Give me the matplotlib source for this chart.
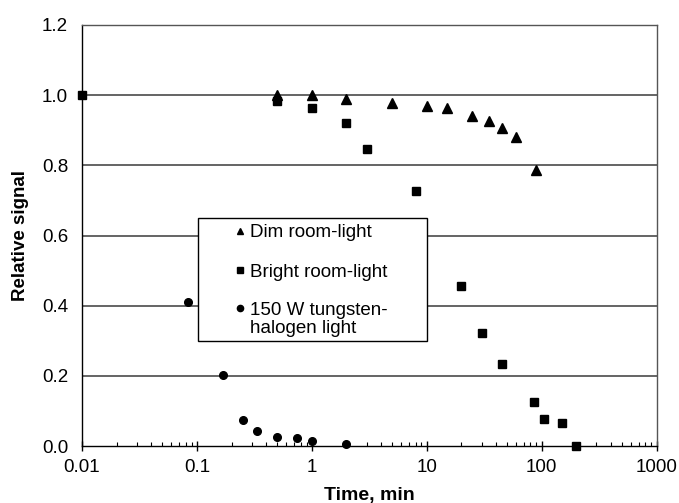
"""
Relative signal vs. exposure time for three light conditions
"""
import matplotlib
matplotlib.use('Agg')
import matplotlib.pyplot as plt
from matplotlib.patches import Rectangle
from matplotlib.ticker import FixedLocator, LogLocator, NullFormatter

plt.rcParams['font.family'] = ['Liberation Sans', 'DejaVu Sans']

# Dim room-light (triangles)
dim_t = [0.5, 1, 2, 5, 10, 15, 25, 35, 45, 60, 90]
dim_y = [1.0, 1.0, 0.989, 0.979, 0.970, 0.963, 0.940, 0.927, 0.906, 0.880, 0.787]

# Bright room-light (squares)
bright_t = [0.01, 0.5, 1, 2, 3, 8, 20, 30, 45, 85, 105, 150, 200]
bright_y = [1.0, 0.984, 0.963, 0.921, 0.847, 0.728, 0.457, 0.323, 0.234,
            0.126, 0.076, 0.067, 0.0]

# 150 W tungsten-halogen light (circles)
halogen_t = [0.083, 0.167, 0.25, 0.333, 0.5, 0.75, 1, 2]
halogen_y = [0.410, 0.202, 0.074, 0.043, 0.027, 0.024, 0.015, 0.005]

x_ticks = [0.01, 0.1, 1, 10, 100, 1000]
x_labels = ['0.01', '0.1', '1', '10', '100', '1000']
y_ticks = [0.0, 0.2, 0.4, 0.6, 0.8, 1.0, 1.2]

legend_labels = ['Dim room-light', 'Bright room-light', '150 W tungsten-',
                 'halogen light']

fig = plt.figure(figsize=(6.79, 5.03), dpi=100)
ax = fig.add_axes([0.1208, 0.1133, 0.8461, 0.837])

ax.set_xscale('log')
ax.set_xlim(0.01, 1000)
ax.set_ylim(0, 1.2)

# horizontal grid lines
for yv in y_ticks[1:-1]:
    ax.axhline(yv, color='#3a3a3a', lw=1.1, zorder=1)

ax.plot(dim_t, dim_y, ls='none', marker='^', ms=7, color='black',
        zorder=3, clip_on=False)
ax.plot(bright_t, bright_y, ls='none', marker='s', ms=5.5, color='black',
        zorder=3, clip_on=False)
ax.plot(halogen_t, halogen_y, ls='none', marker='o', ms=5.5, color='black',
        zorder=3, clip_on=False)

ax.xaxis.set_major_locator(FixedLocator(x_ticks))
ax.set_xticklabels(x_labels)
ax.xaxis.set_minor_locator(LogLocator(base=10, subs=range(2, 10)))
ax.xaxis.set_minor_formatter(NullFormatter())
ax.set_yticks(y_ticks)
ax.set_yticklabels([f'{v:.1f}' for v in y_ticks])

ax.tick_params(axis='x', which='major', direction='inout', length=7,
               width=1, labelsize=13.5, pad=6)
ax.tick_params(axis='x', which='minor', direction='in', length=3, width=0.8)
ax.tick_params(axis='y', which='major', length=0, labelsize=13.5, pad=10)

for side in ['top', 'right']:
    ax.spines[side].set_color('#555555')
    ax.spines[side].set_linewidth(1.0)
for side in ['left', 'bottom']:
    ax.spines[side].set_color('black')
    ax.spines[side].set_linewidth(1.0)

ax.set_xlabel('Time, min', fontsize=14, fontweight='bold', labelpad=8)
ax.set_ylabel('Relative signal', fontsize=13.5, fontweight='bold')
ax.yaxis.set_label_coords(-0.093, 0.50)

# legend: box with wide horizontal padding, entries placed by hand
box = Rectangle((0.202, 0.249), 0.3985, 0.2926, transform=ax.transAxes,
                facecolor='white', edgecolor='black', lw=1.0, zorder=4)
ax.add_patch(box)

row_y = [0.5107, 0.418, 0.3278, 0.2827]
for marker, ms, yy in [('^', 5, row_y[0]), ('s', 4.5, row_y[1]),
                       ('o', 4.5, row_y[2])]:
    ax.plot([0.275], [yy], ls='none', marker=marker, ms=ms, color='black',
            transform=ax.transAxes, zorder=5, clip_on=False)
for label, yy in zip(legend_labels, row_y):
    ax.text(0.2924, yy, label, transform=ax.transAxes, fontsize=13.5,
            ha='left', va='center_baseline', zorder=5)

plt.savefig('out.png', dpi=100)
